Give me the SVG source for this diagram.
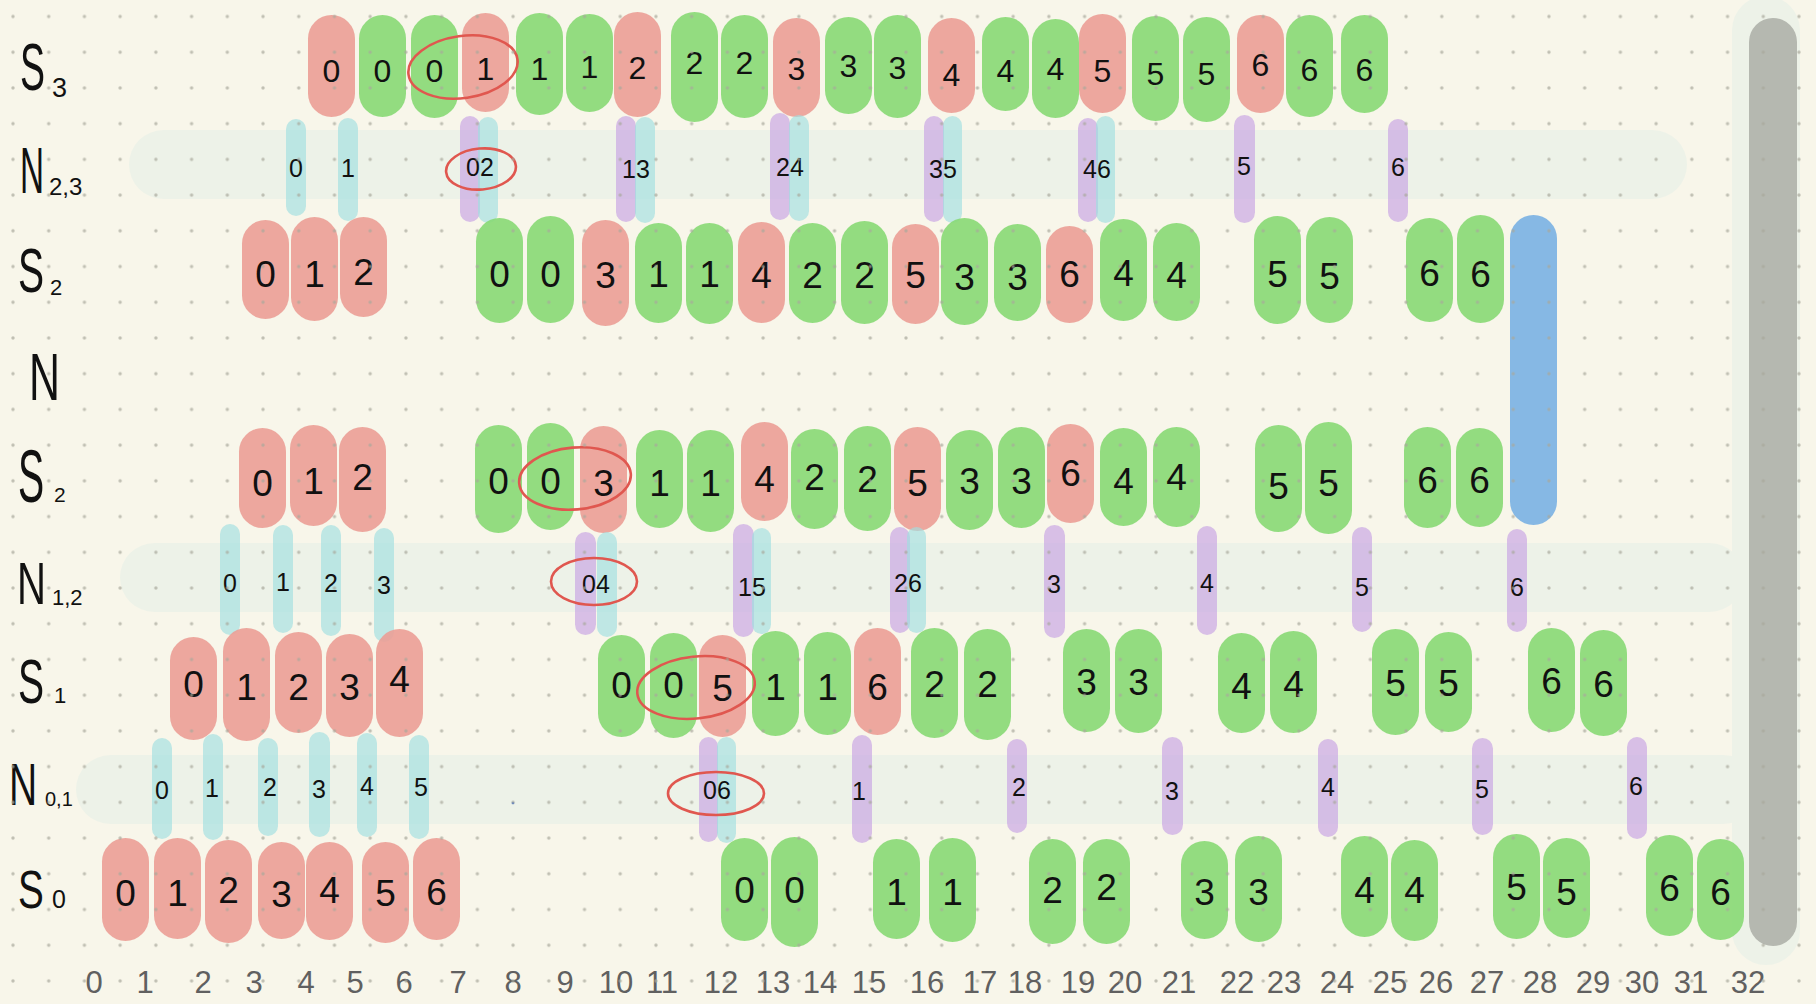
<svg xmlns="http://www.w3.org/2000/svg" width="1816" height="1004" viewBox="0 0 1816 1004">
<defs>
<pattern id="dots" patternUnits="userSpaceOnUse" x="-4.86" y="-1.36" width="35.72" height="35.72">
<circle cx="17.86" cy="17.86" r="1.7" fill="#a9a89c" fill-opacity="0.7"/>
</pattern>
<style>
.bg{fill:#f8f6ea}
.band{fill:#edf2e8}
.r{fill:#eb9f96;fill-opacity:0.9}
.g{fill:#87d974;fill-opacity:0.9}
.c{fill:#9fdfe0;fill-opacity:0.65}
.p{fill:#c6a2e4;fill-opacity:0.65}
.d{font-family:"Liberation Sans",Arial,sans-serif;font-size:37px;fill:#111;text-anchor:middle}
.d3{font-family:"Liberation Sans",Arial,sans-serif;font-size:32px;fill:#111;text-anchor:middle}
.n{font-family:"Liberation Sans",Arial,sans-serif;font-size:25px;fill:#111;text-anchor:middle}
.lab{font-family:"Liberation Sans",Arial,sans-serif;fill:#111}
.ax{font-family:"Liberation Sans",Arial,sans-serif;font-size:31px;fill:#606060;text-anchor:middle}
.ring{fill:none;stroke:#e0574f;stroke-width:2.6}
</style>
</defs>
<rect class="bg" x="0" y="0" width="1816" height="1004"/>

<!-- bands and bars -->
<g id="bands">
<rect class="band" x="129" y="130" width="1558" height="69" rx="34.5"/>
<rect class="band" x="120" y="543" width="1624" height="69" rx="34.5"/>
<rect class="band" x="76" y="755" width="1682" height="69" rx="34.5"/>
<rect id="halo" class="band" x="1732" y="-4" width="68" height="969" rx="34"/>
<rect id="grey-bar" x="1749" y="18" width="48" height="928" rx="24" fill="#b5b8b0"/>
<rect id="blue-bar" x="1510" y="215" width="47" height="310" rx="23.5" fill="#86b8e4"/>
</g>

<!-- row labels -->
<g id="labels">
<text class="lab" transform="translate(20 90) scale(0.568 1)" font-size="66">S</text>
<text class="lab" x="52" y="97" font-size="27">3</text>
<text class="lab" transform="translate(20 193) scale(0.52 1)" font-size="64">N</text>
<text class="lab" x="49" y="195" font-size="24">2,3</text>
<text class="lab" transform="translate(18 292) scale(0.62 1)" font-size="63">S</text>
<text class="lab" x="50" y="295" font-size="22">2</text>
<text class="lab" transform="translate(29 400) scale(0.65 1)" font-size="66">N</text>
<text class="lab" transform="translate(18 502) scale(0.53 1)" font-size="74">S</text>
<text class="lab" x="54" y="502" font-size="21">2</text>
<text class="lab" transform="translate(17 604) scale(0.68 1)" font-size="59">N</text>
<text class="lab" x="52" y="605" font-size="22">1,2</text>
<text class="lab" transform="translate(18 703) scale(0.62 1)" font-size="63">S</text>
<text class="lab" x="54" y="703" font-size="22">1</text>
<text class="lab" transform="translate(9 805) scale(0.66 1)" font-size="59">N</text>
<text class="lab" x="45" y="806" font-size="20">0,1</text>
<text class="lab" transform="translate(18 908) scale(0.73 1)" font-size="53">S</text>
<text class="lab" x="52" y="908" font-size="25">0</text>
</g>

<!-- S3 row -->
<g id="s3-1"><rect class="r" x="308" y="15" width="47" height="102" rx="23.5"/><text class="d3" x="331.5" y="82">0</text></g>
<g id="s3-2"><rect class="g" x="359" y="15" width="47" height="102" rx="23.5"/><text class="d3" x="382.5" y="82">0</text></g>
<g id="s3-3"><rect class="g" x="411" y="15" width="47" height="103" rx="23.5"/><text class="d3" x="434.5" y="82">0</text></g>
<g id="s3-4"><rect class="r" x="462" y="13" width="47" height="99" rx="23.5"/><text class="d3" x="485.5" y="80">1</text></g>
<g id="s3-5"><rect class="g" x="516" y="13" width="47" height="102" rx="23.5"/><text class="d3" x="539.5" y="80">1</text></g>
<g id="s3-6"><rect class="g" x="566" y="14" width="47" height="98" rx="23.5"/><text class="d3" x="589.5" y="78">1</text></g>
<g id="s3-7"><rect class="r" x="614" y="12" width="47" height="105" rx="23.5"/><text class="d3" x="637.5" y="79">2</text></g>
<g id="s3-8"><rect class="g" x="671" y="12" width="47" height="110" rx="23.5"/><text class="d3" x="694.5" y="74">2</text></g>
<g id="s3-9"><rect class="g" x="721" y="15" width="47" height="103" rx="23.5"/><text class="d3" x="744.5" y="74">2</text></g>
<g id="s3-10"><rect class="r" x="773" y="18" width="47" height="99" rx="23.5"/><text class="d3" x="796.5" y="80">3</text></g>
<g id="s3-11"><rect class="g" x="825" y="17" width="47" height="97" rx="23.5"/><text class="d3" x="848.5" y="77">3</text></g>
<g id="s3-12"><rect class="g" x="874" y="15" width="47" height="103" rx="23.5"/><text class="d3" x="897.5" y="79">3</text></g>
<g id="s3-13"><rect class="r" x="928" y="18" width="47" height="95" rx="23.5"/><text class="d3" x="951.5" y="86">4</text></g>
<g id="s3-14"><rect class="g" x="982" y="17" width="47" height="94" rx="23.5"/><text class="d3" x="1005.5" y="82">4</text></g>
<g id="s3-15"><rect class="g" x="1032" y="19" width="47" height="99" rx="23.5"/><text class="d3" x="1055.5" y="80">4</text></g>
<g id="s3-16"><rect class="r" x="1079" y="14" width="47" height="99" rx="23.5"/><text class="d3" x="1102.5" y="82">5</text></g>
<g id="s3-17"><rect class="g" x="1132" y="16" width="47" height="105" rx="23.5"/><text class="d3" x="1155.5" y="85">5</text></g>
<g id="s3-18"><rect class="g" x="1183" y="17" width="47" height="105" rx="23.5"/><text class="d3" x="1206.5" y="85">5</text></g>
<g id="s3-19"><rect class="r" x="1237" y="15" width="47" height="98" rx="23.5"/><text class="d3" x="1260.5" y="76">6</text></g>
<g id="s3-20"><rect class="g" x="1286" y="15" width="47" height="102" rx="23.5"/><text class="d3" x="1309.5" y="81">6</text></g>
<g id="s3-21"><rect class="g" x="1341" y="15" width="47" height="98" rx="23.5"/><text class="d3" x="1364.5" y="81">6</text></g>

<!-- N2,3 row -->
<g id="n23-0"><rect class="c" x="286" y="119" width="20" height="97" rx="10"/><text class="n" x="296" y="177">0</text></g>
<g id="n23-1"><rect class="c" x="338" y="118" width="20" height="103" rx="10"/><text class="n" x="348" y="177">1</text></g>
<g id="n23-02"><rect class="p" x="460" y="116" width="20" height="106" rx="10"/><rect class="c" x="478" y="117" width="20" height="106" rx="10"/><text class="n" x="480" y="176">02</text></g>
<g id="n23-13"><rect class="p" x="616" y="116" width="20" height="106" rx="10"/><rect class="c" x="635" y="117" width="20" height="106" rx="10"/><text class="n" x="636" y="178">13</text></g>
<g id="n23-24"><rect class="p" x="770" y="113" width="20" height="107" rx="10"/><rect class="c" x="789" y="115" width="20" height="106" rx="10"/><text class="n" x="790" y="176">24</text></g>
<g id="n23-35"><rect class="p" x="924" y="116" width="20" height="106" rx="10"/><rect class="c" x="943" y="116" width="19" height="107" rx="9.5"/><text class="n" x="943" y="178">35</text></g>
<g id="n23-46"><rect class="p" x="1078" y="118" width="20" height="104" rx="10"/><rect class="c" x="1096" y="116" width="19" height="107" rx="9.5"/><text class="n" x="1097" y="178">46</text></g>
<g id="n23-5"><rect class="p" x="1234" y="115" width="21" height="108" rx="10.5"/><text class="n" x="1244" y="175">5</text></g>
<g id="n23-6"><rect class="p" x="1388" y="119" width="20" height="103" rx="10"/><text class="n" x="1398" y="176">6</text></g>

<!-- S2 upper row -->
<g id="s2a-1"><rect class="r" x="242" y="220" width="47" height="99" rx="23.5"/><text class="d" x="265.5" y="287">0</text></g>
<g id="s2a-2"><rect class="r" x="291" y="217" width="47" height="104" rx="23.5"/><text class="d" x="314.5" y="287">1</text></g>
<g id="s2a-3"><rect class="r" x="340" y="217" width="47" height="100" rx="23.5"/><text class="d" x="363.5" y="285">2</text></g>
<g id="s2a-4"><rect class="g" x="476" y="218" width="47" height="105" rx="23.5"/><text class="d" x="499.5" y="287">0</text></g>
<g id="s2a-5"><rect class="g" x="527" y="216" width="47" height="107" rx="23.5"/><text class="d" x="550.5" y="287">0</text></g>
<g id="s2a-6"><rect class="r" x="582" y="220" width="47" height="106" rx="23.5"/><text class="d" x="605.5" y="288">3</text></g>
<g id="s2a-7"><rect class="g" x="635" y="223" width="47" height="100" rx="23.5"/><text class="d" x="658.5" y="287">1</text></g>
<g id="s2a-8"><rect class="g" x="686" y="223" width="47" height="101" rx="23.5"/><text class="d" x="709.5" y="287">1</text></g>
<g id="s2a-9"><rect class="r" x="738" y="222" width="47" height="101" rx="23.5"/><text class="d" x="761.5" y="288">4</text></g>
<g id="s2a-10"><rect class="g" x="789" y="223" width="47" height="100" rx="23.5"/><text class="d" x="812.5" y="288">2</text></g>
<g id="s2a-11"><rect class="g" x="841" y="221" width="47" height="103" rx="23.5"/><text class="d" x="864.5" y="288">2</text></g>
<g id="s2a-12"><rect class="r" x="892" y="224" width="47" height="100" rx="23.5"/><text class="d" x="915.5" y="288">5</text></g>
<g id="s2a-13"><rect class="g" x="941" y="218" width="47" height="107" rx="23.5"/><text class="d" x="964.5" y="290">3</text></g>
<g id="s2a-14"><rect class="g" x="994" y="224" width="47" height="97" rx="23.5"/><text class="d" x="1017.5" y="290">3</text></g>
<g id="s2a-15"><rect class="r" x="1046" y="226" width="47" height="97" rx="23.5"/><text class="d" x="1069.5" y="287">6</text></g>
<g id="s2a-16"><rect class="g" x="1100" y="219" width="47" height="102" rx="23.5"/><text class="d" x="1123.5" y="286">4</text></g>
<g id="s2a-17"><rect class="g" x="1153" y="223" width="47" height="98" rx="23.5"/><text class="d" x="1176.5" y="288">4</text></g>
<g id="s2a-18"><rect class="g" x="1254" y="216" width="47" height="108" rx="23.5"/><text class="d" x="1277.5" y="287">5</text></g>
<g id="s2a-19"><rect class="g" x="1306" y="217" width="47" height="106" rx="23.5"/><text class="d" x="1329.5" y="289">5</text></g>
<g id="s2a-20"><rect class="g" x="1406" y="218" width="47" height="104" rx="23.5"/><text class="d" x="1429.5" y="286">6</text></g>
<g id="s2a-21"><rect class="g" x="1457" y="215" width="47" height="108" rx="23.5"/><text class="d" x="1480.5" y="287">6</text></g>

<!-- S2 lower row -->
<g id="s2b-1"><rect class="r" x="239" y="428" width="47" height="100" rx="23.5"/><text class="d" x="262.5" y="496">0</text></g>
<g id="s2b-2"><rect class="r" x="290" y="425" width="47" height="101" rx="23.5"/><text class="d" x="313.5" y="494">1</text></g>
<g id="s2b-3"><rect class="r" x="339" y="427" width="47" height="105" rx="23.5"/><text class="d" x="362.5" y="490">2</text></g>
<g id="s2b-4"><rect class="g" x="475" y="425" width="47" height="108" rx="23.5"/><text class="d" x="498.5" y="494">0</text></g>
<g id="s2b-5"><rect class="g" x="527" y="423" width="47" height="107" rx="23.5"/><text class="d" x="550.5" y="494">0</text></g>
<g id="s2b-6"><rect class="r" x="580" y="426" width="47" height="107" rx="23.5"/><text class="d" x="603.5" y="496">3</text></g>
<g id="s2b-7"><rect class="g" x="636" y="430" width="47" height="98" rx="23.5"/><text class="d" x="659.5" y="496">1</text></g>
<g id="s2b-8"><rect class="g" x="687" y="430" width="47" height="102" rx="23.5"/><text class="d" x="710.5" y="496">1</text></g>
<g id="s2b-9"><rect class="r" x="741" y="422" width="47" height="99" rx="23.5"/><text class="d" x="764.5" y="492">4</text></g>
<g id="s2b-10"><rect class="g" x="791" y="429" width="47" height="100" rx="23.5"/><text class="d" x="814.5" y="490">2</text></g>
<g id="s2b-11"><rect class="g" x="844" y="426" width="47" height="105" rx="23.5"/><text class="d" x="867.5" y="492">2</text></g>
<g id="s2b-12"><rect class="r" x="894" y="427" width="47" height="104" rx="23.5"/><text class="d" x="917.5" y="496">5</text></g>
<g id="s2b-13"><rect class="g" x="946" y="430" width="47" height="100" rx="23.5"/><text class="d" x="969.5" y="494">3</text></g>
<g id="s2b-14"><rect class="g" x="998" y="427" width="47" height="101" rx="23.5"/><text class="d" x="1021.5" y="494">3</text></g>
<g id="s2b-15"><rect class="r" x="1047" y="424" width="47" height="99" rx="23.5"/><text class="d" x="1070.5" y="486">6</text></g>
<g id="s2b-16"><rect class="g" x="1100" y="428" width="47" height="98" rx="23.5"/><text class="d" x="1123.5" y="494">4</text></g>
<g id="s2b-17"><rect class="g" x="1153" y="427" width="47" height="100" rx="23.5"/><text class="d" x="1176.5" y="490">4</text></g>
<g id="s2b-18"><rect class="g" x="1255" y="425" width="47" height="107" rx="23.5"/><text class="d" x="1278.5" y="499">5</text></g>
<g id="s2b-19"><rect class="g" x="1305" y="422" width="47" height="112" rx="23.5"/><text class="d" x="1328.5" y="496">5</text></g>
<g id="s2b-20"><rect class="g" x="1404" y="427" width="47" height="101" rx="23.5"/><text class="d" x="1427.5" y="493">6</text></g>
<g id="s2b-21"><rect class="g" x="1456" y="428" width="47" height="99" rx="23.5"/><text class="d" x="1479.5" y="493">6</text></g>

<!-- N1,2 row -->
<g id="n12-0"><rect class="c" x="220" y="524" width="20" height="111" rx="10"/><text class="n" x="230" y="592">0</text></g>
<g id="n12-1"><rect class="c" x="273" y="525" width="20" height="108" rx="10"/><text class="n" x="283" y="591">1</text></g>
<g id="n12-2"><rect class="c" x="321" y="525" width="20" height="111" rx="10"/><text class="n" x="331" y="592">2</text></g>
<g id="n12-3"><rect class="c" x="374" y="528" width="20" height="114" rx="10"/><text class="n" x="384" y="594">3</text></g>
<g id="n12-04"><rect class="p" x="575" y="532" width="21" height="103" rx="10.5"/><rect class="c" x="597" y="532" width="20" height="105" rx="10"/><text class="n" x="596" y="593">04</text></g>
<g id="n12-15"><rect class="p" x="733" y="524" width="21" height="113" rx="10.5"/><rect class="c" x="752" y="528" width="19" height="106" rx="9.5"/><text class="n" x="752" y="596">15</text></g>
<g id="n12-26"><rect class="p" x="890" y="527" width="20" height="106" rx="10"/><rect class="c" x="907" y="527" width="19" height="106" rx="9.5"/><text class="n" x="908" y="592">26</text></g>
<g id="n12-3b"><rect class="p" x="1044" y="525" width="21" height="113" rx="10.5"/><text class="n" x="1054" y="593">3</text></g>
<g id="n12-4"><rect class="p" x="1197" y="526" width="20" height="109" rx="10"/><text class="n" x="1207" y="592">4</text></g>
<g id="n12-5"><rect class="p" x="1352" y="527" width="20" height="105" rx="10"/><text class="n" x="1362" y="596">5</text></g>
<g id="n12-6"><rect class="p" x="1507" y="529" width="20" height="103" rx="10"/><text class="n" x="1517" y="596">6</text></g>

<!-- S1 row -->
<g id="s1-1"><rect class="r" x="170" y="637" width="47" height="103" rx="23.5"/><text class="d" x="193.5" y="697">0</text></g>
<g id="s1-2"><rect class="r" x="223" y="628" width="47" height="113" rx="23.5"/><text class="d" x="246.5" y="700">1</text></g>
<g id="s1-3"><rect class="r" x="275" y="632" width="47" height="101" rx="23.5"/><text class="d" x="298.5" y="700">2</text></g>
<g id="s1-4"><rect class="r" x="326" y="634" width="47" height="103" rx="23.5"/><text class="d" x="349.5" y="700">3</text></g>
<g id="s1-5"><rect class="r" x="376" y="629" width="47" height="108" rx="23.5"/><text class="d" x="399.5" y="692">4</text></g>
<g id="s1-6"><rect class="g" x="598" y="635" width="47" height="102" rx="23.5"/><text class="d" x="621.5" y="698">0</text></g>
<g id="s1-7"><rect class="g" x="650" y="633" width="47" height="105" rx="23.5"/><text class="d" x="673.5" y="698">0</text></g>
<g id="s1-8"><rect class="r" x="699" y="635" width="47" height="102" rx="23.5"/><text class="d" x="722.5" y="701">5</text></g>
<g id="s1-9"><rect class="g" x="752" y="631" width="47" height="105" rx="23.5"/><text class="d" x="775.5" y="700">1</text></g>
<g id="s1-10"><rect class="g" x="804" y="632" width="47" height="103" rx="23.5"/><text class="d" x="827.5" y="700">1</text></g>
<g id="s1-11"><rect class="r" x="854" y="628" width="47" height="107" rx="23.5"/><text class="d" x="877.5" y="700">6</text></g>
<g id="s1-12"><rect class="g" x="911" y="628" width="47" height="110" rx="23.5"/><text class="d" x="934.5" y="697">2</text></g>
<g id="s1-13"><rect class="g" x="964" y="629" width="47" height="111" rx="23.5"/><text class="d" x="987.5" y="697">2</text></g>
<g id="s1-14"><rect class="g" x="1063" y="629" width="47" height="103" rx="23.5"/><text class="d" x="1086.5" y="695">3</text></g>
<g id="s1-15"><rect class="g" x="1115" y="629" width="47" height="104" rx="23.5"/><text class="d" x="1138.5" y="695">3</text></g>
<g id="s1-16"><rect class="g" x="1218" y="633" width="47" height="100" rx="23.5"/><text class="d" x="1241.5" y="699">4</text></g>
<g id="s1-17"><rect class="g" x="1270" y="631" width="47" height="102" rx="23.5"/><text class="d" x="1293.5" y="697">4</text></g>
<g id="s1-18"><rect class="g" x="1372" y="629" width="47" height="106" rx="23.5"/><text class="d" x="1395.5" y="696">5</text></g>
<g id="s1-19"><rect class="g" x="1425" y="632" width="47" height="100" rx="23.5"/><text class="d" x="1448.5" y="696">5</text></g>
<g id="s1-20"><rect class="g" x="1528" y="628" width="47" height="104" rx="23.5"/><text class="d" x="1551.5" y="694">6</text></g>
<g id="s1-21"><rect class="g" x="1580" y="630" width="47" height="106" rx="23.5"/><text class="d" x="1603.5" y="697">6</text></g>

<!-- N0,1 row -->
<g id="n01-0"><rect class="c" x="152" y="738" width="20" height="101" rx="10"/><text class="n" x="162" y="799">0</text></g>
<g id="n01-1"><rect class="c" x="203" y="734" width="20" height="106" rx="10"/><text class="n" x="212" y="797">1</text></g>
<g id="n01-2"><rect class="c" x="258" y="738" width="20" height="98" rx="10"/><text class="n" x="270" y="796">2</text></g>
<g id="n01-3"><rect class="c" x="309" y="732" width="21" height="105" rx="10.5"/><text class="n" x="319" y="798">3</text></g>
<g id="n01-4"><rect class="c" x="357" y="733" width="20" height="104" rx="10"/><text class="n" x="367" y="795">4</text></g>
<g id="n01-5"><rect class="c" x="409" y="735" width="20" height="104" rx="10"/><text class="n" x="421" y="796">5</text></g>
<circle cx="513" cy="803" r="1.3" fill="#3a6fd8"/>
<g id="n01-06"><rect class="p" x="699" y="737" width="19" height="105" rx="9.5"/><rect class="c" x="717" y="737" width="19" height="106" rx="9.5"/><text class="n" x="717" y="799">06</text></g>
<g id="n01-1b"><rect class="p" x="852" y="735" width="20" height="108" rx="10"/><text class="n" x="859" y="800">1</text></g>
<g id="n01-2b"><rect class="p" x="1007" y="739" width="20" height="94" rx="10"/><text class="n" x="1019" y="796">2</text></g>
<g id="n01-3b"><rect class="p" x="1162" y="737" width="21" height="98" rx="10.5"/><text class="n" x="1172" y="800">3</text></g>
<g id="n01-4b"><rect class="p" x="1318" y="739" width="20" height="98" rx="10"/><text class="n" x="1328" y="796">4</text></g>
<g id="n01-5b"><rect class="p" x="1472" y="738" width="21" height="97" rx="10.5"/><text class="n" x="1482" y="798">5</text></g>
<g id="n01-6b"><rect class="p" x="1627" y="737" width="20" height="102" rx="10"/><text class="n" x="1636" y="795">6</text></g>

<!-- S0 row -->
<g id="s0-1"><rect class="r" x="102" y="838" width="47" height="103" rx="23.5"/><text class="d" x="125.5" y="906">0</text></g>
<g id="s0-2"><rect class="r" x="154" y="838" width="47" height="101" rx="23.5"/><text class="d" x="177.5" y="906">1</text></g>
<g id="s0-3"><rect class="r" x="205" y="840" width="47" height="103" rx="23.5"/><text class="d" x="228.5" y="903">2</text></g>
<g id="s0-4"><rect class="r" x="258" y="842" width="47" height="97" rx="23.5"/><text class="d" x="281.5" y="907">3</text></g>
<g id="s0-5"><rect class="r" x="306" y="842" width="47" height="98" rx="23.5"/><text class="d" x="329.5" y="903">4</text></g>
<g id="s0-6"><rect class="r" x="362" y="842" width="47" height="101" rx="23.5"/><text class="d" x="385.5" y="906">5</text></g>
<g id="s0-7"><rect class="r" x="413" y="838" width="47" height="102" rx="23.5"/><text class="d" x="436.5" y="905">6</text></g>
<g id="s0-8"><rect class="g" x="721" y="838" width="47" height="103" rx="23.5"/><text class="d" x="744.5" y="903">0</text></g>
<g id="s0-9"><rect class="g" x="771" y="837" width="47" height="110" rx="23.5"/><text class="d" x="794.5" y="903">0</text></g>
<g id="s0-10"><rect class="g" x="873" y="839" width="47" height="100" rx="23.5"/><text class="d" x="896.5" y="905">1</text></g>
<g id="s0-11"><rect class="g" x="929" y="838" width="47" height="104" rx="23.5"/><text class="d" x="952.5" y="905">1</text></g>
<g id="s0-12"><rect class="g" x="1029" y="839" width="47" height="105" rx="23.5"/><text class="d" x="1052.5" y="903">2</text></g>
<g id="s0-13"><rect class="g" x="1083" y="839" width="47" height="105" rx="23.5"/><text class="d" x="1106.5" y="900">2</text></g>
<g id="s0-14"><rect class="g" x="1181" y="841" width="47" height="98" rx="23.5"/><text class="d" x="1204.5" y="905">3</text></g>
<g id="s0-15"><rect class="g" x="1235" y="836" width="47" height="106" rx="23.5"/><text class="d" x="1258.5" y="905">3</text></g>
<g id="s0-16"><rect class="g" x="1341" y="836" width="47" height="101" rx="23.5"/><text class="d" x="1364.5" y="903">4</text></g>
<g id="s0-17"><rect class="g" x="1391" y="840" width="47" height="101" rx="23.5"/><text class="d" x="1414.5" y="903">4</text></g>
<g id="s0-18"><rect class="g" x="1493" y="834" width="47" height="105" rx="23.5"/><text class="d" x="1516.5" y="900">5</text></g>
<g id="s0-19"><rect class="g" x="1543" y="838" width="47" height="100" rx="23.5"/><text class="d" x="1566.5" y="905">5</text></g>
<g id="s0-20"><rect class="g" x="1646" y="835" width="47" height="101" rx="23.5"/><text class="d" x="1669.5" y="901">6</text></g>
<g id="s0-21"><rect class="g" x="1697" y="839" width="47" height="101" rx="23.5"/><text class="d" x="1720.5" y="905">6</text></g>

<!-- highlight rings -->
<g id="connectors">
<ellipse class="ring" cx="463" cy="67" rx="55" ry="31" transform="rotate(-8 463 67)"/>
<ellipse class="ring" cx="481" cy="169" rx="35" ry="20.5" transform="rotate(-5 481 169)"/>
<ellipse class="ring" cx="575" cy="478.5" rx="56" ry="31" transform="rotate(-5 575 478.5)"/>
<ellipse class="ring" cx="594" cy="581.5" rx="43" ry="23.5"/>
<ellipse class="ring" cx="696" cy="687.5" rx="59" ry="31" transform="rotate(-6 696 687.5)"/>
<ellipse class="ring" cx="716" cy="793.5" rx="48" ry="21.5"/>
</g>

<!-- axis -->
<g id="axis">
<text class="ax" x="94" y="993">0</text>
<text class="ax" x="145" y="993">1</text>
<text class="ax" x="203" y="993">2</text>
<text class="ax" x="254" y="993">3</text>
<text class="ax" x="306" y="993">4</text>
<text class="ax" x="355" y="993">5</text>
<text class="ax" x="404" y="993">6</text>
<text class="ax" x="458" y="993">7</text>
<text class="ax" x="513" y="993">8</text>
<text class="ax" x="565" y="993">9</text>
<text class="ax" x="616" y="993">10</text>
<text class="ax" x="662" y="993">11</text>
<text class="ax" x="721" y="993">12</text>
<text class="ax" x="773" y="993">13</text>
<text class="ax" x="820" y="993">14</text>
<text class="ax" x="869" y="993">15</text>
<text class="ax" x="927" y="993">16</text>
<text class="ax" x="980" y="993">17</text>
<text class="ax" x="1025" y="993">18</text>
<text class="ax" x="1078" y="993">19</text>
<text class="ax" x="1125" y="993">20</text>
<text class="ax" x="1179" y="993">21</text>
<text class="ax" x="1237" y="993">22</text>
<text class="ax" x="1284" y="993">23</text>
<text class="ax" x="1337" y="993">24</text>
<text class="ax" x="1390" y="993">25</text>
<text class="ax" x="1436" y="993">26</text>
<text class="ax" x="1487" y="993">27</text>
<text class="ax" x="1540" y="993">28</text>
<text class="ax" x="1593" y="993">29</text>
<text class="ax" x="1642" y="993">30</text>
<text class="ax" x="1691" y="993">31</text>
<text class="ax" x="1748" y="993">32</text>
</g>

<rect id="dot-grid" x="0" y="0" width="1816" height="1004" fill="url(#dots)" pointer-events="none"/>
</svg>
